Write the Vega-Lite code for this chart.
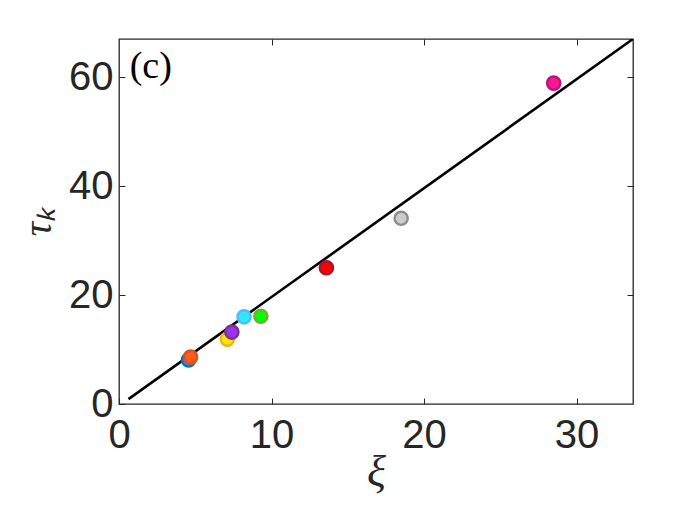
{
  "$schema": "https://vega.github.io/schema/vega-lite/v6.json",
  "width": 514,
  "height": 365,
  "autosize": {"type": "none"},
  "padding": {"left": 119, "top": 39, "right": 67, "bottom": 121},
  "background": "white",
  "config": {
    "view": {"stroke": "#262626", "strokeWidth": 1.3},
    "axis": {
      "grid": false,
      "domain": false,
      "tickColor": "#262626",
      "tickWidth": 1,
      "tickSize": -6,
      "labelFont": "Liberation Sans",
      "labelFontSize": 40,
      "labelColor": "#262626",
      "titleColor": "#262626",
      "titleFont": "Liberation Serif",
      "titleFontStyle": "italic",
      "titleFontWeight": "normal"
    }
  },
  "datasets": {
    "fit": [
      {"xi": 0.62, "tau": 0.9},
      {"xi": 33.7, "tau": 67}
    ],
    "pts": [
      {"id": "a", "xi": 4.56, "tau": 8.1},
      {"id": "b", "xi": 4.69, "tau": 8.6},
      {"id": "c", "xi": 7.1, "tau": 11.9},
      {"id": "d", "xi": 7.4, "tau": 13.2},
      {"id": "e", "xi": 8.2, "tau": 16.0},
      {"id": "f", "xi": 9.3, "tau": 16.1},
      {"id": "g", "xi": 13.6, "tau": 25.0},
      {"id": "h", "xi": 18.5, "tau": 34.1},
      {"id": "i", "xi": 28.5, "tau": 58.9}
    ],
    "lab": [
      {"xi": 0.7, "tau": 61.8, "text": "(c)"}
    ]
  },
  "resolve": {"axis": {"x": "independent", "y": "independent"}},
  "layer": [
    {
      "data": {"name": "fit"},
      "mark": {"type": "line", "color": "black", "strokeWidth": 2.6, "clip": true},
      "encoding": {
        "x": {
          "field": "xi", "type": "quantitative",
          "scale": {"domain": [0, 33.7], "nice": false, "zero": false},
          "axis": {"values": [0, 10, 20, 30], "title": "ξ", "titleFontSize": 44, "labelPadding": 17, "titlePadding": -5, "labelFlush": false}
        },
        "y": {
          "field": "tau", "type": "quantitative",
          "scale": {"domain": [0, 67], "nice": false, "zero": false},
          "axis": {"values": [0, 20, 40, 60], "title": "τₖ", "titleFontSize": 40, "labelPadding": 12, "titlePadding": 10, "labelFlush": false}
        }
      }
    },
    {
      "data": {"name": "fit"},
      "mark": {"type": "line", "opacity": 0},
      "encoding": {
        "x": {"field": "xi", "type": "quantitative", "axis": {"orient": "top", "values": [10, 20, 30], "labels": false, "title": null}},
        "y": {"field": "tau", "type": "quantitative", "axis": {"orient": "right", "values": [20, 40, 60], "labels": false, "title": null}}
      }
    },
    {
      "data": {"name": "pts"},
      "mark": {"type": "circle", "size": 175, "strokeWidth": 2.4, "opacity": 1},
      "encoding": {
        "x": {"field": "xi", "type": "quantitative", "axis": null},
        "y": {"field": "tau", "type": "quantitative", "axis": null},
        "color": {
          "field": "id", "type": "nominal", "legend": null,
          "scale": {"domain": ["a","b","c","d","e","f","g","h","i"],
                    "range": ["#1f8fff", "#ff5a1f", "#ffe800", "#9933ee", "#33e5ff", "#00ff00", "#ff0000", "#cccccc", "#ff1493"]}
        },
        "stroke": {
          "field": "id", "type": "nominal", "legend": null,
          "scale": {"domain": ["a","b","c","d","e","f","g","h","i"],
                    "range": ["#0072bd", "#d95319", "#edb120", "#7e2f8e", "#4dbeee", "#77ac30", "#a2142f", "#8c8c8c", "#b3177a"]}
        }
      }
    },
    {
      "data": {"name": "lab"},
      "mark": {"type": "text", "align": "left", "baseline": "middle", "font": "Liberation Serif", "fontSize": 38, "color": "black"},
      "encoding": {
        "x": {"field": "xi", "type": "quantitative", "axis": null},
        "y": {"field": "tau", "type": "quantitative", "axis": null},
        "text": {"field": "text"}
      }
    }
  ]
}
